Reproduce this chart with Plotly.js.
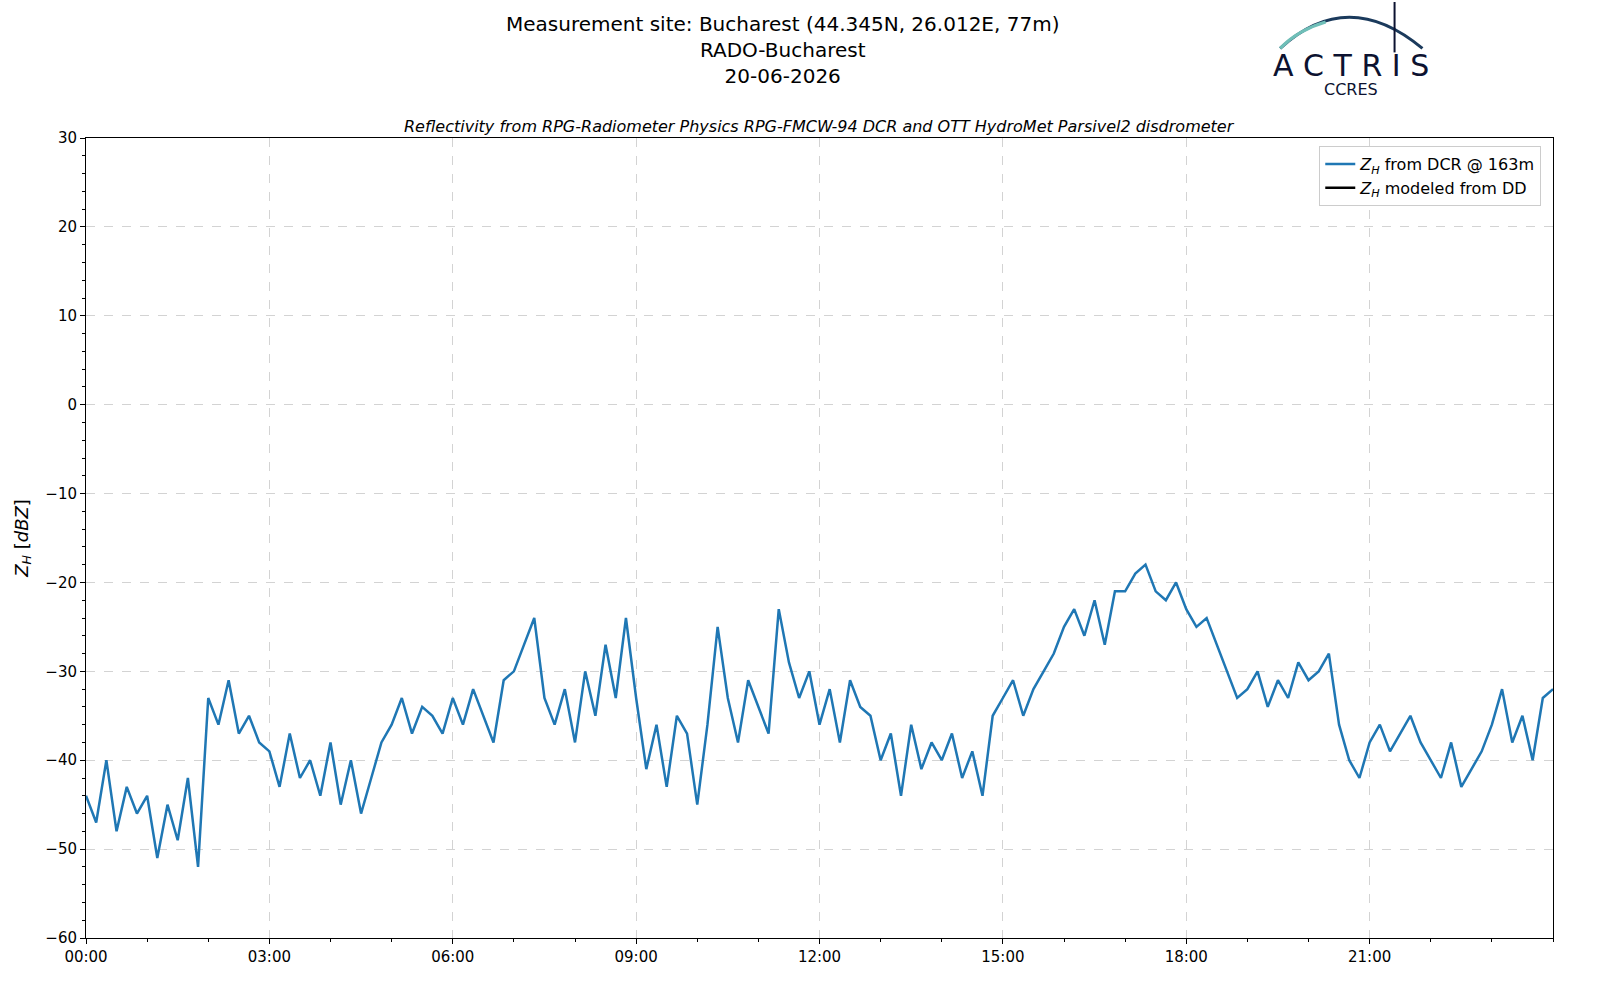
<!DOCTYPE html>
<html>
<head>
<meta charset="utf-8">
<script src="https://cdn.plot.ly/plotly-3.0.1.min.js"></script>
<style>body{margin:0;background:#fff}#chart{width:1600px;height:1000px}</style>
</head>
<body>
<div id="chart"></div>
<script>
// 10-minute values of Z_H (dBZ), 00:00 .. 24:00
var zhDcr = [
    -44, -47, -40, -48, -43, -46,
    -44, -51, -45, -49, -42, -52,
    -33, -36, -31, -37, -35, -38,
    -39, -43, -37, -42, -40, -44,
    -38, -45, -40, -46, -42, -38,
    -36, -33, -37, -34, -35, -37,
    -33, -36, -32, -35, -38, -31,
    -30, -27, -24, -33, -36, -32,
    -38, -30, -35, -27, -33, -24,
    -33, -41, -36, -43, -35, -37,
    -45, -36, -25, -33, -38, -31,
    -34, -37, -23, -29, -33, -30,
    -36, -32, -38, -31, -34, -35,
    -40, -37, -44, -36, -41, -38,
    -40, -37, -42, -39, -44, -35,
    -33, -31, -35, -32, -30, -28,
    -25, -23, -26, -22, -27, -21,
    -21, -19, -18, -21, -22, -20,
    -23, -25, -24, -27, -30, -33,
    -32, -30, -34, -31, -33, -29,
    -31, -30, -28, -36, -40, -42,
    -38, -36, -39, -37, -35, -38,
    -40, -42, -38, -43, -41, -39,
    -36, -32, -38, -35, -40, -33,
    -32
];
var tickHours = ['00:00', '03:00', '06:00', '09:00', '12:00', '15:00', '18:00', '21:00'];

var times = zhDcr.map(function (v, i) {
    var m = i * 10;
    var hh = Math.floor(m / 60), mm = m % 60;
    if (hh === 24) return '2026-06-21 00:00';
    return '2026-06-20 ' + String(hh).padStart(2, '0') + ':' + String(mm).padStart(2, '0');
});

var data = [{
    x: times,
    y: zhDcr,
    type: 'scatter',
    mode: 'lines',
    line: {color: '#1f77b4', width: 2.5},
    name: '<i>Z<sub>H</sub></i> from DCR @ 163m'
}, {
    x: [null],
    y: [null],
    type: 'scatter',
    mode: 'lines',
    line: {color: 'black', width: 2.5},
    name: '<i>Z<sub>H</sub></i> modeled from DD'
}];

var axisCommon = {
    showline: true,
    mirror: true,
    linecolor: 'black',
    linewidth: 1,
    ticks: 'outside',
    ticklen: 5,
    tickcolor: 'black',
    showgrid: true,
    gridcolor: '#d3d3d3',
    griddash: 'dash',
    zeroline: false,
    tickfont: {size: 15, color: 'black'}
};

var layout = {
    width: 1600,
    height: 1000,
    font: {family: 'DejaVu Sans', color: 'black'},
    paper_bgcolor: 'white',
    plot_bgcolor: 'white',
    margin: {l: 86, r: 47, t: 138, b: 62},
    showlegend: true,
    legend: {
        x: 0.992, y: 0.99, xanchor: 'right', yanchor: 'top',
        bordercolor: '#cccccc', borderwidth: 1, bgcolor: 'white',
        font: {size: 16}
    },
    xaxis: Object.assign({}, axisCommon, {
        type: 'date',
        range: ['2026-06-20 00:00', '2026-06-21 00:00'],
        tickmode: 'array',
        tickvals: tickHours.map(function (h) { return '2026-06-20 ' + h; }),
        ticktext: tickHours,
        minor: {dtick: 3600 * 1000, tick0: '2026-06-20 00:00', ticks: 'outside', ticklen: 3, tickcolor: 'black', showgrid: false}
    }),
    yaxis: Object.assign({}, axisCommon, {
        range: [-60, 30],
        dtick: 10,
        minor: {dtick: 2, ticks: 'outside', ticklen: 3, tickcolor: 'black', showgrid: false},
        title: {text: '<i>Z<sub>H</sub></i> [<i>dBZ</i>]', font: {size: 18}, standoff: 12}
    }),
    annotations: [{
        text: 'Measurement site: Bucharest (44.345N, 26.012E, 77m)<br>RADO-Bucharest<br>20-06-2026',
        xref: 'paper', yref: 'paper', x: 0.475, y: 1.06, xanchor: 'center', yanchor: 'bottom',
        showarrow: false, font: {size: 20}
    }, {
        text: '<i>Reflectivity from RPG-Radiometer Physics RPG-FMCW-94 DCR and OTT HydroMet Parsivel2 disdrometer</i>',
        xref: 'paper', yref: 'paper', x: 0.5, y: 1.0, xanchor: 'center', yanchor: 'bottom',
        showarrow: false, font: {size: 16}
    }, {
        text: 'A C T R I S',
        xref: 'paper', yref: 'paper', x: 0.862, y: 1.09, xanchor: 'center', yanchor: 'middle',
        showarrow: false, font: {size: 30, color: '#0c1230'}
    }, {
        text: 'CCRES',
        xref: 'paper', yref: 'paper', x: 0.862, y: 1.06, xanchor: 'center', yanchor: 'middle',
        showarrow: false, font: {size: 16, color: '#0c1230'}
    }],
    shapes: [{
        type: 'path', xref: 'paper', yref: 'paper',
        path: 'M 0.814 1.112 Q 0.86 1.19 0.911 1.112',
        line: {color: '#1b3a5c', width: 3}
    }, {
        type: 'path', xref: 'paper', yref: 'paper',
        path: 'M 0.814 1.112 Q 0.826 1.135 0.845 1.145',
        line: {color: '#6fbfb8', width: 3}
    }, {
        type: 'line', xref: 'paper', yref: 'paper',
        x0: 0.892, x1: 0.892, y0: 1.107, y1: 1.17,
        line: {color: '#0c1230', width: 2}
    }]
};

Plotly.newPlot('chart', data, layout, {displayModeBar: false});
</script>
</body>
</html>
